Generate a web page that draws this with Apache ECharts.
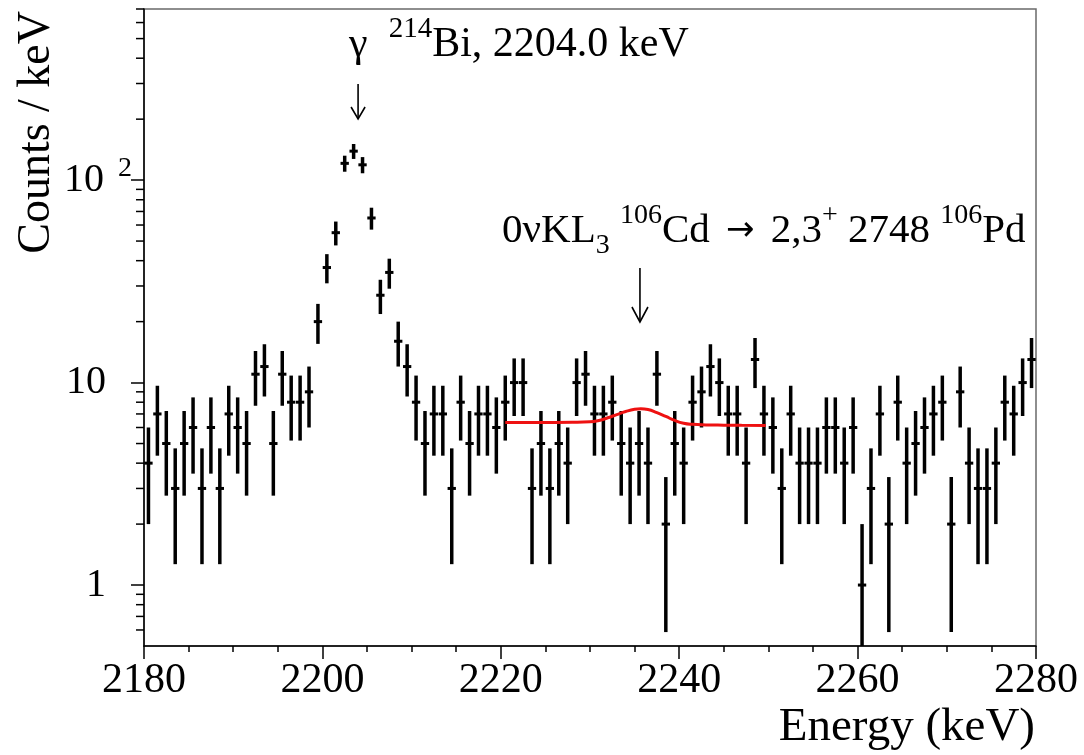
<!DOCTYPE html>
<html>
<head>
<meta charset="utf-8">
<script src="https://cdn.jsdelivr.net/npm/echarts@6/dist/echarts.min.js"></script>
<style>
html,body{margin:0;padding:0;background:#fff;}
#chart{width:1084px;height:755px;}
</style>
</head>
<body>
<div id="chart"></div>
<script>
// ---- data (1 keV bins, centres in keV) ----
const binCenters = [
  2180.5,2181.5,2182.5,2183.5,2184.5,2185.5,2186.5,2187.5,2188.5,2189.5,
  2190.5,2191.5,2192.5,2193.5,2194.5,2195.5,2196.5,2197.5,2198.5,2199.5,
  2200.5,2201.5,2202.5,2203.5,2204.5,2205.5,2206.5,2207.5,2208.5,2209.5,
  2210.5,2211.5,2212.5,2213.5,2214.5,2215.5,2216.5,2217.5,2218.5,2219.5,
  2220.5,2221.5,2222.5,2223.5,2224.5,2225.5,2226.5,2227.5,2228.5,2229.5,
  2230.5,2231.5,2232.5,2233.5,2234.5,2235.5,2236.5,2237.5,2238.5,2239.5,
  2240.5,2241.5,2242.5,2243.5,2244.5,2245.5,2246.5,2247.5,2248.5,2249.5,
  2250.5,2251.5,2252.5,2253.5,2254.5,2255.5,2256.5,2257.5,2258.5,2259.5,
  2260.5,2261.5,2262.5,2263.5,2264.5,2265.5,2266.5,2267.5,2268.5,2269.5,
  2270.5,2271.5,2272.5,2273.5,2274.5,2275.5,2276.5,2277.5,2278.5,2279.5
];
const counts = [
  4,7,5,3,5,6,3,6,3,7,
  6,5,11,12,5,11,8,8,9,20,
  37,55,121,139,119,65,27,35,16,12,
  8,5,7,7,3,8,5,7,7,6,
  8,10,10,3,5,3,5,4,10,11,
  7,7,8,5,4,5,4,11,2,5,
  4,8,9,12,10,7,7,4,13,7,
  6,3,7,4,4,4,6,6,4,6,
  1,3,7,2,8,4,5,6,7,8,
  2,9,4,3,3,4,8,7,10,13
];
// fitted curve
const fitEnergy = [2220.5,2222,2224,2226,2228,2230,2231,2232,2233,2234,2235,2235.7,2236.5,2237.5,2238.5,2239.5,2240.5,2241.5,2243,2245,2247,2249.7];
const fitValue  = [6.35,6.35,6.35,6.35,6.36,6.40,6.50,6.70,6.95,7.20,7.38,7.42,7.36,7.10,6.80,6.50,6.30,6.22,6.18,6.16,6.15,6.13];

const yMajorTicks = [1,10,100];
const yMinorTicks = [0.6,0.7,0.8,0.9,2,3,4,5,6,7,8,9,20,30,40,50,60,70,80,90,200,300,400,500,600,700];
const X_MIN = 2180, X_MAX = 2280, X_STEP = 20;
const Y_MIN = 0.5, Y_MAX = 700;

const annBi = {energy: 2204.0};
const annCd = {energy: 2235.6};

const FONT = '"Liberation Serif","Times New Roman",serif';

const chart = echarts.init(document.getElementById('chart'), null, {renderer:'canvas'});

const histData = binCenters.map((e,i)=>[e, counts[i]]);
const fitData = fitEnergy.map((e,i)=>[e, fitValue[i]]);
const minorTickData = yMinorTicks.map(v=>[X_MIN, v]);

const option = {
  animation: false,
  backgroundColor: '#fff',
  grid: {left:144, right:48, top:9, bottom:109, show:true, borderColor:'#6a6a6a', borderWidth:1.5, backgroundColor:'transparent'},
  xAxis: {
    type:'value', min:X_MIN, max:X_MAX, interval:X_STEP,
    axisLine:{show:true, onZero:false, lineStyle:{color:'#000', width:1.5}},
    axisTick:{show:true, inside:false, length:13, lineStyle:{color:'#000', width:1.5}},
    minorTick:{show:true, splitNumber:4, length:6, lineStyle:{color:'#000', width:1.5}},
    splitLine:{show:false},
    axisLabel:{color:'#000', fontFamily:FONT, fontSize:42, margin:14, formatter: v => String(v)},
  },
  yAxis: {
    type:'log', logBase:10, min:Y_MIN, max:Y_MAX,
    axisLine:{show:true, lineStyle:{color:'#000', width:1.5}},
    axisTick:{show:true, inside:false, length:13, customValues: yMajorTicks, lineStyle:{color:'#000', width:1.5}},
    splitLine:{show:false},
    axisLabel:{
      customValues: yMajorTicks,
      margin: 12,
      formatter: v => (Math.round(v)===100 ? '{n|10}{s|2}' : '{p|' + Math.round(v) + '}'),
      rich:{
        n:{fontFamily:FONT, fontSize:40, color:'#000', lineHeight:50},
        s:{fontFamily:FONT, fontSize:28, color:'#000', lineHeight:28, verticalAlign:'top', padding:[0,0,0,14]},
        p:{fontFamily:FONT, fontSize:40, color:'#000', lineHeight:50, padding:[0,26,0,0]}
      }
    }
  },
  series: [{
    type:'custom',
    clip:true,
    data: histData,
    renderItem: function(params, api){
      const x = api.value(0), v = api.value(1);
      const err = Math.sqrt(v);
      const lo = Math.max(v - err, Y_MIN);
      const hi = v + err;
      const pc = api.coord([x, v]);
      const pl = api.coord([x, lo]);
      const ph = api.coord([x, hi]);
      const pa = api.coord([x - 0.5, v]);
      const pb = api.coord([x + 0.5, v]);
      return {type:'group', children:[
        {type:'line', shape:{x1:pc[0], y1:pl[1], x2:pc[0], y2:ph[1]}, style:{stroke:'#000', lineWidth:3.5}},
        {type:'line', shape:{x1:pa[0]+0.3, y1:pc[1], x2:pb[0]-0.3, y2:pc[1]}, style:{stroke:'#000', lineWidth:3}}
      ]};
    },
    z: 3
  },{
    // minor ticks of the log axis, placed through the axis scale
    type:'custom',
    clip:false,
    silent:true,
    data: minorTickData,
    renderItem: function(params, api){
      const p = api.coord([api.value(0), api.value(1)]);
      return {type:'line', shape:{x1:p[0]-8, y1:p[1], x2:p[0], y2:p[1]}, style:{stroke:'#000', lineWidth:1.5}};
    },
    z: 2
  },{
    type:'line',
    data: fitData,
    smooth: true,
    showSymbol:false,
    lineStyle:{color:'#ee1111', width:3},
    z: 4
  }]
};
chart.setOption(option);

const xBi = chart.convertToPixel({xAxisIndex:0}, annBi.energy);
const xCd = chart.convertToPixel({xAxisIndex:0}, annCd.energy);

function arrow(x, y1, y2, hw, hl){
  return [
    {type:'line', shape:{x1:x, y1:y1, x2:x, y2:y2}, style:{stroke:'#000', lineWidth:1.6}},
    {type:'polyline', shape:{points:[[x-hw, y2-hl],[x, y2],[x+hw, y2-hl]]}, style:{stroke:'#000', fill:null, lineWidth:1.6}}
  ];
}

const annRich = {
  m:{fontFamily:FONT, fontSize:42, color:'#000', lineHeight:60},
  sup:{fontFamily:FONT, fontSize:29, color:'#000', lineHeight:29, verticalAlign:'top'},
  sub:{fontFamily:FONT, fontSize:29, color:'#000', lineHeight:29, verticalAlign:'bottom'}
};
const annRich2 = {
  m:{fontFamily:FONT, fontSize:41, color:'#000', lineHeight:58},
  a:{fontFamily:'"DejaVu Sans",sans-serif', fontSize:34, color:'#000', lineHeight:58, padding:[0,6,0,6]},
  sup:{fontFamily:FONT, fontSize:28, color:'#000', lineHeight:28, verticalAlign:'top'},
  sub:{fontFamily:FONT, fontSize:28, color:'#000', lineHeight:28, verticalAlign:'bottom'}
};

chart.setOption({
  graphic: [
    {type:'text', x: xBi - 9, y: 15, z:10, style:{
      text:'{m|γ  }{sup|214}{m|Bi, 2204.0 keV}', rich: annRich, align:'left', verticalAlign:'top'
    }},
    ...arrow(xBi, 84, 119, 7, 12),
    {type:'text', x: 502, y: 202, z:10, style:{
      text:'{m|0νKL}{sub|3}{m| }{sup|106}{m|Cd }{a|→}{m| 2,3}{sup|+}{m| 2748 }{sup|106}{m|Pd}', rich: annRich2, align:'left', verticalAlign:'top'
    }},
    ...arrow(xCd, 268, 322, 8, 15),
    {type:'text', x: 37, y: 11, rotation: Math.PI/2, z:10, style:{
      text:'Counts / keV', fontFamily:FONT, fontSize:46, fill:'#000', align:'right', verticalAlign:'middle'
    }},
    {type:'text', x: 1035, y: 728, z:10, style:{
      text:'Energy (keV)', fontFamily:FONT, fontSize:47, fill:'#000', align:'right', verticalAlign:'middle'
    }}
  ]
});
</script>
</body>
</html>
